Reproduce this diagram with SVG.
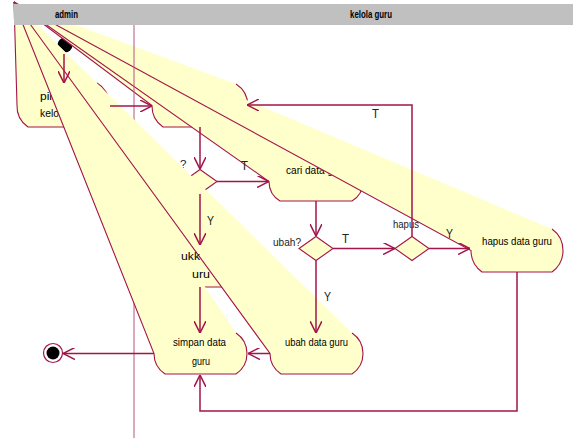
<svg xmlns="http://www.w3.org/2000/svg" width="573" height="438" viewBox="0 0 573 438">
<defs>
<style>
.fan{fill:#FFFFCC;stroke:#A3154A;stroke-width:1.1}
.dec{fill:#FFFFCC;stroke:#A3154A;stroke-width:1.1}
.tr{fill:none;stroke:#A3154A;stroke-width:1.5;marker-end:url(#arr)}
.t{font-family:"Liberation Sans",Arial,sans-serif;font-size:11px;fill:#000}
.lb{font-family:"Liberation Sans",Arial,sans-serif;font-size:13px;fill:#222}
.dl{font-family:"Liberation Sans",Arial,sans-serif;font-size:11.5px;fill:#222}
.hd{font-family:"Liberation Sans",Arial,sans-serif;font-size:11px;font-weight:bold;fill:#000}
</style>
<marker id="arr" viewBox="0 0 10 10" refX="10" refY="5" markerWidth="12" markerHeight="12" markerUnits="userSpaceOnUse" orient="auto">
<path d="M0,0 L10,5 L0,10" fill="none" stroke="#A3154A" stroke-width="1.3"/>
</marker>
</defs>
<rect width="573" height="438" fill="#fff"/>
<g id="start"><circle cx="65" cy="45" r="7.5" fill="#000"/></g>
<g id="node-pilih"><path class="fan" d="M14,2 L17,105 A25.5,25.5 0 0 0 28,127 L97,127 A25.5,25.5 0 0 0 97,83"/><text class="t" x="40" y="100" textLength="12" lengthAdjust="spacingAndGlyphs">pil</text><text class="t" x="40" y="117" textLength="19" lengthAdjust="spacingAndGlyphs">kelo</text></g>
<g id="node-tampil"><path class="fan" d="M14,2 L152,105.5 A25.5,25.5 0 0 0 163,127 L236,127 A25.5,25.5 0 0 0 236,84"/></g>
<g id="node-cari"><path class="fan" d="M14,2 L269,181.5 A22.8,22.8 0 0 0 280,201 L352,201 A22.8,22.8 0 0 0 352,162"/><text class="t" x="286" y="174" textLength="47" lengthAdjust="spacingAndGlyphs">cari data g</text></g>
<g id="node-hapus"><path class="fan" d="M14,2 L471,250.5 A26.5,26.5 0 0 0 482,272 L552,272 A26.5,26.5 0 0 0 552,229"/><text class="t" x="482" y="245" textLength="70" lengthAdjust="spacingAndGlyphs">hapus data guru</text></g>
<line x1="134" y1="25" x2="134" y2="438" stroke="#B8557A" stroke-width="1"/>
<g id="dec-tambah"><path class="dec" d="M200,169.5 L217,181.5 L200,193.5 L183,181.5 Z"/><text class="dl" x="180" y="168">?</text></g>
<g id="dec-ubah"><path class="dec" d="M316,236.5 L333,248.5 L316,260.5 L299,248.5 Z"/><text class="dl" x="273" y="246" textLength="28" lengthAdjust="spacingAndGlyphs">ubah?</text></g>
<g id="dec-hapus"><path class="dec" d="M412,236.5 L429,248.5 L412,260.5 L395,248.5 Z"/><text class="dl" x="393" y="228" textLength="26" lengthAdjust="spacingAndGlyphs">hapus</text></g>
<g id="node-masukkan"><path class="fan" d="M14,2 L152,266 A25.5,25.5 0 0 0 163,287 L236,287 A25.5,25.5 0 0 0 236,245"/></g>
<g id="node-simpan"><path class="fan" d="M14,2 L154,353.5 A24.6,24.6 0 0 0 165,374 L236,374 A24.6,24.6 0 0 0 236,333"/><text class="t" x="173" y="346" textLength="53" lengthAdjust="spacingAndGlyphs">simpan data</text><text class="t" x="192" y="365" textLength="18" lengthAdjust="spacingAndGlyphs">guru</text></g>
<g id="node-ubah"><path class="fan" d="M14,2 L270,353.5 A24.6,24.6 0 0 0 281,374 L352,374 A24.6,24.6 0 0 0 352,333"/><text class="t" x="285" y="346" textLength="63" lengthAdjust="spacingAndGlyphs">ubah data guru</text></g>
<g id="frag-masukkan"><text class="t" x="181" y="260" textLength="19" lengthAdjust="spacingAndGlyphs">ukk</text><text class="t" x="192" y="278" textLength="18" lengthAdjust="spacingAndGlyphs">uru</text></g>
<g id="connectors">
<path class="tr" d="M64,54 L64,83"/>
<path class="tr" d="M110,106 L152,106"/>
<path class="tr" d="M200,127 L200,169"/>
<path class="tr" d="M217,181.5 L269,181.5"/>
<path class="tr" d="M200,194 L200,245"/>
<path class="tr" d="M316,201 L316,236"/>
<path class="tr" d="M333,248.5 L395,248.5"/>
<path class="tr" d="M316,261 L316,333"/>
<path class="tr" d="M429,248.5 L470,248.5"/>
<path class="tr" d="M412,236.5 L412,105 L247,105"/>
<path class="tr" d="M200,287 L200,333"/>
<path class="tr" d="M270,353.5 L248,353.5"/>
<path class="tr" d="M517,272 L517,411 L200,411 L200,375"/>
<path class="tr" d="M154,353.5 L63,353.5"/>
<text class="lb" x="241" y="170" textLength="7" lengthAdjust="spacingAndGlyphs">T</text>
<text class="lb" x="207" y="225" textLength="7" lengthAdjust="spacingAndGlyphs">Y</text>
<text class="lb" x="342" y="243" textLength="7" lengthAdjust="spacingAndGlyphs">T</text>
<text class="lb" x="324" y="301" textLength="7" lengthAdjust="spacingAndGlyphs">Y</text>
<text class="lb" x="446" y="238" textLength="7" lengthAdjust="spacingAndGlyphs">Y</text>
<text class="lb" x="372" y="118" textLength="7" lengthAdjust="spacingAndGlyphs">T</text>
</g>
<g id="end"><circle cx="53" cy="353" r="9.5" fill="#fff" stroke="#A3154A" stroke-width="1.2"/><circle cx="53" cy="353" r="6.5" fill="#000"/></g>
<g id="header"><rect x="14" y="4" width="559" height="21" fill="#C0C0C0"/><text class="hd" x="55" y="18" textLength="23" lengthAdjust="spacingAndGlyphs">admin</text><text class="hd" x="350" y="18" textLength="42" lengthAdjust="spacingAndGlyphs">kelola guru</text></g>
</svg>
